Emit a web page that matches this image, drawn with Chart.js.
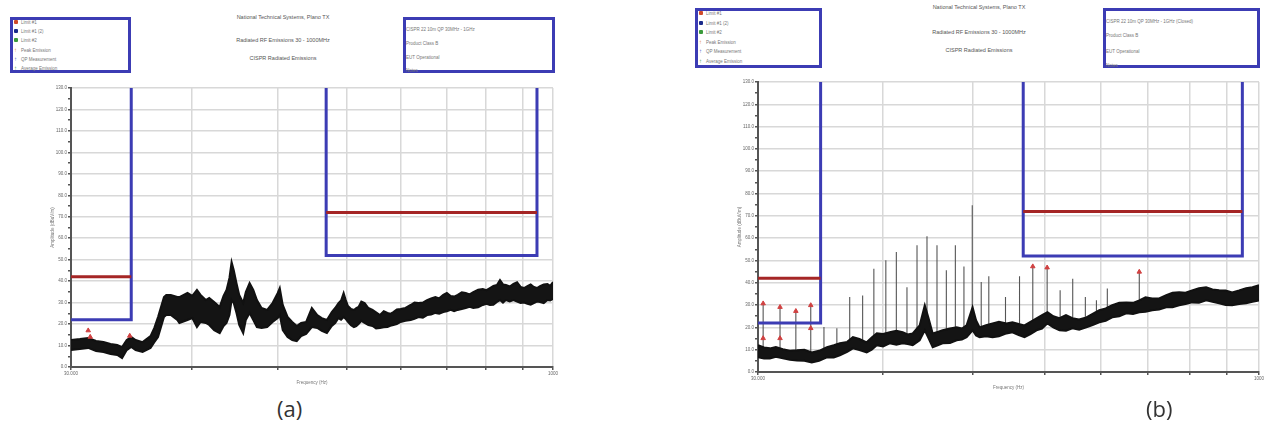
<!DOCTYPE html>
<html>
<head>
<meta charset="utf-8">
<script src="https://cdn.jsdelivr.net/npm/chart.js@4.4.1/dist/chart.umd.min.js"></script>
<style>
  body { margin:0; width:1264px; height:433px; background:#fff; position:relative; overflow:hidden; font-family:"Liberation Sans", Arial, sans-serif; }
  canvas { position:absolute; }
  .box { position:absolute; border:3px solid #3c3cb4; box-sizing:border-box; background:#fff; }
  .tiny { position:absolute; font-size:4.5px; line-height:5px; color:#777; white-space:nowrap; }
  .title { position:absolute; width:240px; text-align:center; font-size:5.5px; line-height:6px; color:#555; white-space:nowrap; }
  .cap { position:absolute; font-family:"Open Sans", sans-serif; font-size:22px; line-height:30px; color:#333; }
</style>
</head>
<body>
<canvas id="chartA" width="560" height="310" style="left:0px;top:80px"></canvas>
<canvas id="chartB" width="574" height="320" style="left:690px;top:74px"></canvas>
<div class="cap" style="left:277px;top:393px">(a)</div>
<div class="cap" style="left:1146px;top:393px">(b)</div>
<script>
// text
const titleLines = ['National Technical Systems, Plano TX', 'Radiated RF Emissions 30 - 1000MHz', 'CISPR Radiated Emissions'];
const legendLabels = ['Limit #1', 'Limit #1 (2)', 'Limit #2', 'Peak Emission', 'QP Measurement', 'Average Emission'];
const legendColors = ['#d04a2a', '#1a2a8a', '#3a9a3a', '#e08a30', '#3050c0', '#40a040'];
const infoA = ['CISPR 22 10m QP 30MHz - 1GHz', 'Product Class B', 'EUT Operational', 'Notes'];
const infoB = ['CISPR 22 10m QP 30MHz - 1GHz (Closed)', 'Product Class B', 'EUT Operational', 'Notes'];

// axes
const gridFreqs = [30, 72, 135, 223, 331, 460, 615, 800, 1000];
const xTickLabels = ['30.000', '1000'];
const yMin = 0, yMax = 130;

// limit masks
const boxFreqs = [30, 46.5, 192, 890];
const blueLevels = [22, 52];
const redLevels = [42, 72];

// (a) noise band, MHz / dB
const aFreq = [
  30, 32, 34, 36, 38, 40, 42, 43.5, 45, 46.5,
  48, 50.5, 53.5, 55, 56.5, 59, 60, 62, 65, 66,
  70, 72.5, 75, 77, 80, 82, 85, 88.5, 91, 93,
  95, 96.5, 98, 100, 102, 105, 107, 110, 113, 116,
  120, 125, 130, 135, 137, 140, 145, 150, 155, 160,
  166, 173, 180, 186, 193, 200, 205, 210, 214, 218,
  221, 225, 230, 235, 239, 243, 248, 254, 261, 269,
  276, 284, 292, 300, 306, 313, 321, 330, 342, 355,
  365, 376, 388, 400, 412, 425, 437, 450, 462, 475,
  487, 500, 515, 530, 545, 560, 580, 600, 616, 632,
  648, 665, 680, 695, 710, 730, 750, 770, 790, 810,
  830, 850, 870, 890, 910, 935, 960, 980, 1000];
const aHigh = [
  12.6, 13.0, 13.5, 12.1, 11.6, 10.7, 10.3, 9.3, 12.6, 14.0,
  12.6, 11.6, 14.4, 18.2, 23.3, 32.6, 33.6, 33.6, 32.6, 32.6,
  34.5, 33.1, 35.9, 33.6, 31.2, 32.2, 30.3, 28.0, 33.1, 35.9,
  41.5, 48.9, 45.2, 39.1, 33.6, 29.8, 34.9, 39.1, 35.9, 31.2,
  27.5, 26.6, 29.8, 34.5, 36.8, 28.9, 23.3, 21.0, 19.1, 20.5,
  21.0, 27.5, 24.2, 22.8, 21.9, 25.6, 27.5, 29.8, 31.0, 34.5,
  31.5, 28.4, 27.0, 26.6, 27.5, 28.0, 30.5, 29.8, 27.5, 26.6,
  25.5, 24.2, 26.0, 25.2, 24.8, 25.6, 26.8, 27.0, 27.5, 28.9,
  30.0, 29.8, 30.0, 31.2, 32.0, 32.6, 32.0, 33.6, 34.5, 33.1,
  32.8, 33.6, 34.8, 34.5, 33.8, 34.9, 36.0, 36.3, 35.8, 36.8,
  37.8, 38.2, 40.5, 38.5, 38.2, 37.5, 38.7, 39.5, 37.3, 36.8,
  37.7, 38.5, 37.3, 36.8, 37.7, 38.5, 38.7, 37.8, 39.6];
const aLow = [
  7.9, 8.4, 8.9, 7.5, 7.0, 6.1, 5.6, 4.2, 7.9, 9.3,
  7.9, 7.0, 8.9, 11.6, 14.0, 23.3, 24.2, 24.2, 21.9, 20.5,
  21.9, 22.8, 18.6, 21.0, 20.5, 19.6, 17.2, 15.8, 19.1, 20.5,
  24.2, 31.2, 29.8, 25.2, 19.6, 15.8, 21.9, 25.2, 21.9, 18.6,
  18.2, 18.6, 21.0, 22.8, 24.2, 17.2, 14.0, 12.6, 12.1, 14.4,
  15.4, 18.6, 18.2, 16.8, 15.8, 19.1, 20.5, 22.8, 22.0, 23.3,
  22.5, 21.0, 19.5, 18.6, 19.0, 20.0, 21.5, 20.5, 19.5, 19.1,
  18.0, 18.2, 18.5, 18.6, 19.2, 19.6, 20.0, 21.0, 21.5, 21.9,
  22.5, 23.3, 23.0, 24.2, 24.5, 25.2, 24.8, 25.6, 26.0, 26.6,
  26.0, 26.6, 27.0, 27.5, 28.0, 27.5, 27.8, 28.9, 29.5, 28.9,
  29.0, 30.3, 31.2, 30.0, 31.2, 30.5, 31.2, 30.5, 29.8, 30.0,
  29.4, 29.0, 29.8, 30.5, 30.3, 29.8, 31.2, 31.0, 31.7];
const aMarkFreq = [34, 34.5, 46];
const aMarkLevel = [17, 14, 14.5];

// (b) noise band, MHz / dB
const bFreq = [
  30, 31.3, 32.6, 34, 35.7, 37.5, 39.4, 41.5, 43.7, 46,
  48.6, 51, 53.2, 56, 58.3, 61, 64.2, 66.5, 68.9, 72,
  75.4, 79, 82.6, 85.5, 88.6, 93, 96.4, 99, 101.9, 105.5,
  109.2, 115, 120.5, 125, 129.2, 134.7, 138, 141.5, 148, 154.9,
  162, 170.8, 178, 186, 193.7, 202, 210.7, 219, 227.5, 237,
  247.4, 259, 270.9, 284, 298.7, 312, 327, 342, 358, 376,
  395, 414, 432.7, 452, 473.7, 497, 522.3, 546, 572, 598,
  626, 657, 690.8, 722, 756.6, 792, 828.6, 870, 913.6, 955,
  1000];
const bHigh = [
  12.0, 11.0, 10.6, 11.2, 10.2, 9.5, 9.7, 10.0, 8.8, 9.5,
  11.1, 12.0, 12.9, 13.5, 15.6, 14.8, 13.3, 15.5, 17.3, 17.0,
  17.8, 18.5, 17.8, 16.8, 17.3, 20.9, 29.9, 24.1, 17.3, 18.0,
  18.7, 19.5, 20.0, 19.5, 20.9, 29.0, 23.2, 20.0, 21.0, 21.8,
  22.5, 21.8, 22.3, 21.5, 20.9, 22.5, 24.1, 25.5, 26.8, 25.0,
  24.1, 25.5, 24.1, 23.5, 24.5, 26.0, 27.7, 28.5, 29.9, 31.0,
  31.2, 31.0, 32.1, 33.5, 33.0, 33.0, 34.4, 35.5, 35.7, 35.5,
  36.6, 37.5, 38.0, 37.0, 36.6, 36.5, 35.7, 36.5, 37.5, 38.0,
  38.9];
const bLow = [
  6.6, 6.0, 6.1, 6.8, 6.1, 5.5, 5.2, 5.0, 4.3, 5.0,
  6.6, 6.5, 7.5, 9.0, 10.6, 9.8, 8.8, 10.0, 12.0, 11.5,
  12.9, 12.2, 12.9, 12.5, 12.0, 14.2, 18.7, 15.1, 11.1, 12.0,
  12.9, 13.0, 14.2, 14.5, 15.6, 18.7, 16.4, 15.6, 16.0, 15.6,
  16.0, 17.3, 17.8, 16.5, 15.6, 17.0, 18.7, 19.5, 21.8, 20.0,
  18.7, 18.5, 19.6, 19.0, 20.0, 21.0, 22.3, 23.0, 24.5, 25.0,
  26.3, 26.0, 26.8, 27.0, 27.7, 28.0, 29.0, 29.0, 29.9, 30.5,
  31.2, 31.0, 32.1, 31.5, 30.8, 30.0, 29.9, 30.5, 30.8, 31.5,
  32.1];

// (b) narrowband spikes
const bSpikeFreq = [31.1, 35.0, 39.1, 43.4, 47.6, 52.1, 57.0, 62.4, 67.5, 73.4, 79.0, 85.1, 91.3, 97.9, 105, 112.1, 119.4, 126.8, 134.4, 143.1, 150.9, 169.6, 187.1, 205.3, 227, 248.6, 271.5, 296.6, 320.5, 345.9, 432.6];
const bSpikePeak = [30.7, 29.1, 27.3, 29.9, 20.2, 19.6, 33.6, 34.3, 46.3, 50.1, 53.8, 38.0, 56.8, 60.8, 56.8, 45.6, 56.8, 47.3, 74.7, 40.3, 42.9, 33.6, 42.9, 47.3, 46.8, 36.6, 41.8, 33.6, 32.2, 37.4, 44.9];
const bSpikeBase = [7, 7, 7, 7, 8, 9, 11, 10, 12, 13, 13, 13, 13, 17, 12, 13, 14, 15, 18, 16, 16, 17, 17, 18, 22, 19, 20, 20, 22, 24, 27];
const bMarkFreq = [31.1, 35.0, 39.1, 43.4, 31.1, 35.0, 43.4, 205.3, 227, 432.6];
const bMarkLevel = [30.7, 29.1, 27.3, 29.9, 15.1, 15.1, 19.6, 47.3, 46.8, 44.9];

const BLUE = '#3c3cb4';
const RED = '#a52626';

const pts = (xs, ys) => xs.map((x, i) => ({ x: x, y: ys[i] }));

function limitSets() {
  const blue = [
    { x: boxFreqs[1], y: yMax }, { x: boxFreqs[1], y: blueLevels[0] }, { x: boxFreqs[0], y: blueLevels[0] },
    { x: boxFreqs[0], y: null },
    { x: boxFreqs[2], y: yMax }, { x: boxFreqs[2], y: blueLevels[1] }, { x: boxFreqs[3], y: blueLevels[1] }, { x: boxFreqs[3], y: yMax }
  ];
  const red = [
    { x: boxFreqs[0], y: redLevels[0] }, { x: boxFreqs[1], y: redLevels[0] },
    { x: boxFreqs[1], y: null },
    { x: boxFreqs[2], y: redLevels[1] }, { x: boxFreqs[3], y: redLevels[1] }
  ];
  return { blue, red };
}

function spikePoints(fs, peaks, bases) {
  const out = [];
  fs.forEach((f, i) => {
    out.push({ x: f, y: bases[i] }, { x: f, y: peaks[i] }, { x: f, y: null });
  });
  return out;
}

function makeChart(id, area, band, spikes, marks) {
  const canvas = document.getElementById(id);
  const W = canvas.width, H = canvas.height;
  const yW = 21, xH = 18;
  const lim = limitSets();

  const datasets = [
    { data: marks, showLine: false, pointStyle: 'triangle', pointRadius: 2.6, backgroundColor: '#d04040', borderColor: '#d04040', order: 0 },
    { data: lim.red, borderColor: RED, borderWidth: 3, pointRadius: 0, spanGaps: false, order: 1 },
    { data: lim.blue, borderColor: BLUE, borderWidth: 3, pointRadius: 0, spanGaps: false, order: 2 },
    { data: band.hi, borderColor: '#111', borderWidth: 2, pointRadius: 0, fill: false, order: 3 },
    { data: band.lo, borderColor: '#111', borderWidth: 2, pointRadius: 0, fill: '-1', backgroundColor: '#141414', order: 4 },
    { data: spikes, borderColor: '#555', borderWidth: 1.1, pointRadius: 0, spanGaps: false, order: 5 }
  ];

  return new Chart(canvas, {
    type: 'line',
    data: { datasets: datasets },
    options: {
      responsive: false,
      animation: false,
      devicePixelRatio: 1,
      layout: { padding: { left: area.left - yW, top: area.top, right: W - area.right, bottom: H - area.bottom - xH } },
      plugins: { legend: { display: false }, tooltip: { enabled: false } },
      elements: { line: { tension: 0 } },
      scales: {
        x: {
          type: 'logarithmic', min: 30, max: 1000,
          afterBuildTicks: (s) => { s.ticks = gridFreqs.map(v => ({ value: v })); },
          afterFit: (s) => { s.height = xH; s.paddingLeft = 0; s.paddingRight = 0; },
          ticks: {
            autoSkip: false, maxRotation: 0, padding: 1,
            font: { size: 4.5, family: 'Liberation Sans' }, color: '#666',
            callback: (v, i, t) => i === 0 ? xTickLabels[0] : (i === t.length - 1 ? xTickLabels[1] : '')
          },
          grid: { color: '#d8d8d8', lineWidth: 1.5, tickLength: 3, tickColor: '#555' },
          border: { color: '#555', width: 2 },
          title: { display: true, text: 'Frequency (Hz)', font: { size: 4.5, family: 'Liberation Sans' }, color: '#777', padding: 0 }
        },
        y: {
          type: 'linear', min: yMin, max: yMax,
          afterFit: (s) => { s.width = yW; s.paddingTop = 0; s.paddingBottom = 0; },
          ticks: {
            stepSize: 5, padding: 1,
            font: { size: 4.5, family: 'Liberation Sans' }, color: '#666',
            callback: (v) => v % 10 === 0 ? v.toFixed(1) : ''
          },
          grid: {
            color: (c) => (c.tick && c.tick.value % 10 === 0) ? '#d8d8d8' : 'rgba(0,0,0,0)',
            lineWidth: 1.5, tickLength: 3, tickColor: '#555'
          },
          border: { color: '#555', width: 2 },
          title: { display: true, text: 'Amplitude (dBuV/m)', font: { size: 4.5, family: 'Liberation Sans' }, color: '#777', padding: 0 }
        }
      }
    }
  });
}

makeChart('chartA', { left: 71, top: 8, right: 553, bottom: 287 },
  { hi: pts(aFreq, aHigh), lo: pts(aFreq, aLow) }, [], pts(aMarkFreq, aMarkLevel));

makeChart('chartB', { left: 68, top: 8, right: 570, bottom: 298 },
  { hi: pts(bFreq, bHigh), lo: pts(bFreq, bLow) },
  spikePoints(bSpikeFreq, bSpikePeak, bSpikeBase), pts(bMarkFreq, bMarkLevel));

// header boxes and titles
function addEl(cls, left, top, w, h, text) {
  const d = document.createElement('div');
  d.className = cls;
  d.style.left = left + 'px';
  d.style.top = top + 'px';
  if (w) d.style.width = w + 'px';
  if (h) d.style.height = h + 'px';
  if (text) d.textContent = text;
  document.body.appendChild(d);
  return d;
}

function addLegend(left, top, w, h, rowStep) {
  addEl('box', left, top, w, h);
  legendLabels.forEach((lab, i) => {
    const y = top + 4 + i * rowStep;
    const ic = addEl('tiny', left + 4, y - 1, 0, 0, i < 3 ? '' : '\u2191');
    if (i < 3) {
      ic.style.width = '4px'; ic.style.height = '4px'; ic.style.background = legendColors[i]; ic.style.borderRadius = '1px';
    } else {
      ic.style.color = legendColors[i]; ic.style.fontSize = '6px';
    }
    addEl('tiny', left + 11, y - 1, 0, 0, lab);
  });
}

function addInfo(left, top, w, h, lines, offs) {
  addEl('box', left, top, w, h);
  lines.forEach((t, i) => addEl('tiny', left + 3, top + offs[i], 0, 0, t));
}

function addTitles(cx, ys) {
  titleLines.forEach((t, i) => addEl('title', cx - 120, ys[i] - 3, 0, 0, t));
}

addLegend(10, 17, 121, 56, 9.2);
addInfo(403, 17, 152, 56, infoA, [10, 24, 38, 51]);
addTitles(283, [17, 40, 58]);

addLegend(695, 8, 127, 60, 9.6);
addInfo(1103, 8, 157, 60, infoB, [11, 25, 41, 55]);
addTitles(979, [7, 32, 50]);
</script>
</body>
</html>
